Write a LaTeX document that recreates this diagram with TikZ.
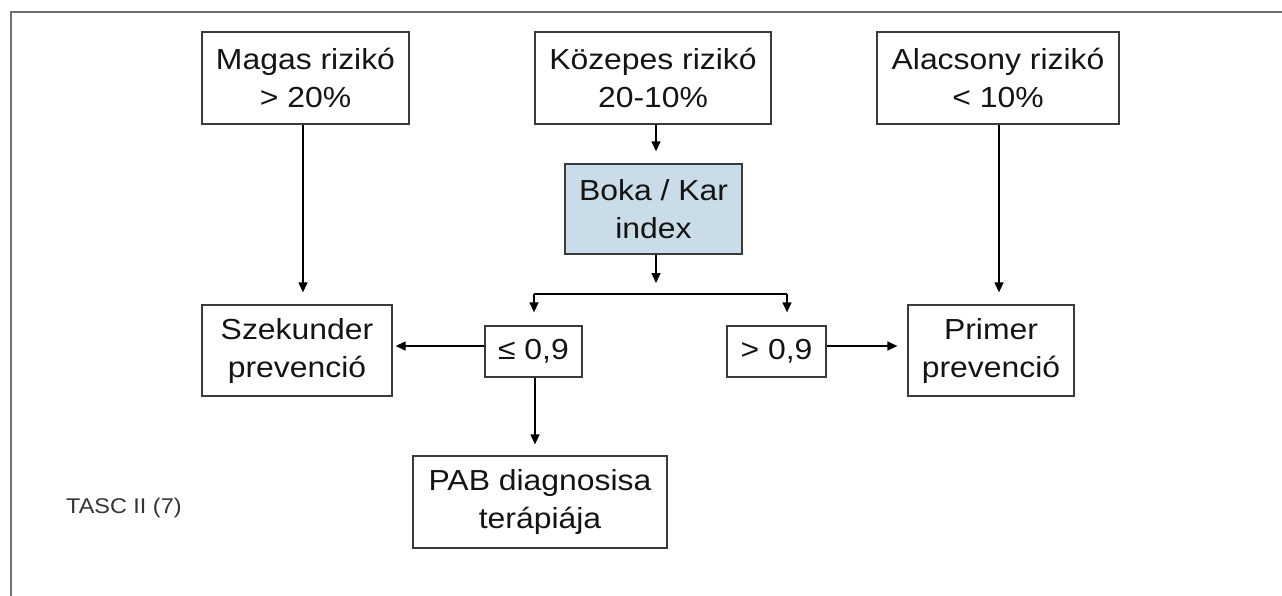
\documentclass[tikz,border=0pt]{standalone}
\usepackage{fontspec}
\setmainfont{Liberation Sans}[FakeStretch=1.1]
\usetikzlibrary{arrows.meta}
\definecolor{boxline}{HTML}{3A3A3A}
\definecolor{bokafill}{HTML}{C9DCE7}
\definecolor{framegray}{HTML}{707070}
\tikzset{
  box/.style={draw=boxline, line width=1.3pt, fill=white, inner sep=0pt, align=center,
    font=\fontsize{29}{38}\selectfont, text=black!92},
  arr/.style={line width=1.3pt, -{Triangle[length=10pt,width=9pt]}},
  conn/.style={line width=1.3pt},
}
\begin{document}
\begin{tikzpicture}[x=1pt,y=-1pt]
\useasboundingbox (0,0) rectangle (1282,595);
% outer frame (partly clipped)
\draw[framegray, line width=2pt] (11,600) -- (11,12) -- (1290,12);

% top row
\node[box, minimum width=207pt, minimum height=92pt] (magas) at (305.5,78) {Magas rizikó\\> 20\%};
\node[box, minimum width=236pt, minimum height=92pt] (kozepes) at (653,78) {Közepes rizikó\\20-10\%};
\node[box, minimum width=242pt, minimum height=92pt] (alacsony) at (998,78) {Alacsony rizikó\\< 10\%};

% middle
\node[box, fill=bokafill, minimum width=177pt, minimum height=90pt] (boka) at (653.5,209) {Boka / Kar\\index};

% second row
\node[box, minimum width=190pt, minimum height=91pt] (szek) at (297,350.5) {Szekunder\\prevenció};
\node[box, minimum width=97pt, minimum height=51pt] (le) at (533.5,351.5) {≤ 0,9};
\node[box, minimum width=99pt, minimum height=51pt] (gt) at (776.5,351.5) {> 0,9};
\node[box, minimum width=166pt, minimum height=91pt] (primer) at (991,350.5) {Primer\\prevenció};

% bottom
\node[box, minimum width=254pt, minimum height=92pt] (pab) at (540,502) {PAB diagnosisa\\terápiája};

\node[anchor=base west, inner sep=0pt, font=\fontsize{21.3}{24}\selectfont, text=black!80] (tasc) at (66,513) {TASC II (7)};

% split coordinates
\coordinate (bm) at (656,294);
\coordinate (bl) at (534,294);
\coordinate (br) at (787,294);
\coordinate (hy) at (0,346);

% connectors
\draw[arr, shorten >=12pt] (magas.south -| 303,0) -- (szek.north -| 303,0);
\draw[arr, shorten >=12pt] (alacsony.south -| 999,0) -- (primer.north -| 999,0);
\draw[arr, shorten >=12pt] (kozepes.south -| 656,0) -- (boka.north -| 656,0);
\draw[arr, shorten >=11pt] (boka.south -| bm) -- (bm);
\draw[conn] (bl) -- (br);
\draw[arr, shorten >=13pt] (bl) -- (bl |- le.north);
\draw[arr, shorten >=13pt] (br) -- (br |- gt.north);
\draw[arr, shorten >=3pt] (le.west |- hy) -- (szek.east |- hy);
\draw[arr, shorten >=10pt] (gt.east |- hy) -- (primer.west |- hy);
\draw[arr, shorten >=11pt] (le.south -| 535,0) -- (pab.north -| 535,0);
\end{tikzpicture}
\end{document}
